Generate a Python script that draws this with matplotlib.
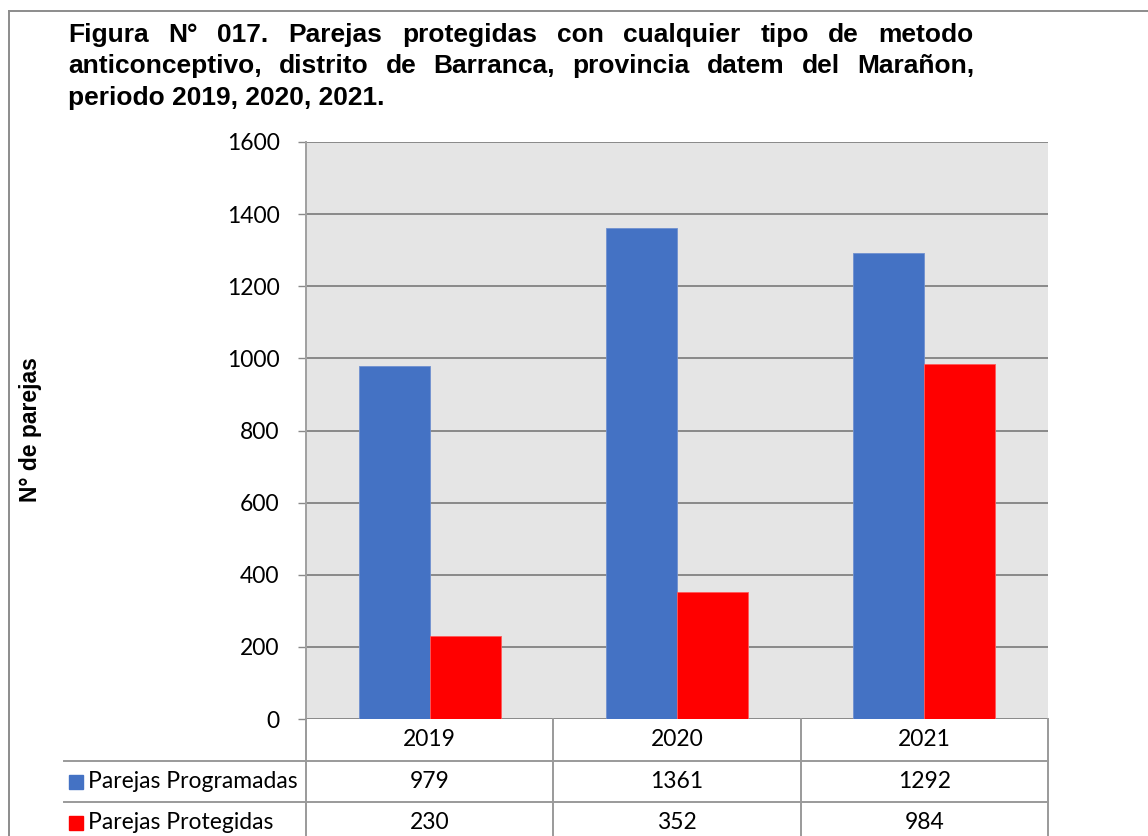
import matplotlib
matplotlib.use("Agg")
import matplotlib.pyplot as plt
from matplotlib.lines import Line2D
from matplotlib.patches import Rectangle
from matplotlib.transforms import blended_transform_factory
import numpy as np

# data
years = ["2019", "2020", "2021"]
programadas = [979, 1361, 1292]
protegidas = [230, 352, 984]
series_names = ["Parejas Programadas", "Parejas Protegidas"]
colors = ["#4472C4", "#FF0000"]

title_lines = [
    "Figura N° 017. Parejas protegidas con cualquier tipo de metodo",
    "anticonceptivo, distrito de Barranca, provincia datem del Marañon,",
    "periodo 2019, 2020, 2021.",
]

W, H = 1148, 836
fig = plt.figure(figsize=(W / 100, H / 100), dpi=100)
fx = lambda px: px / W
fy = lambda py: 1 - py / H

ax = fig.add_axes([fx(306), fy(719), fx(1048) - fx(306), fy(142) - fy(719)])
ax.set_facecolor("#E5E5E5")

x = np.arange(len(years))
bw = 0.287
ax.bar(x - bw / 2, programadas, bw, color=colors[0], edgecolor="#6f90d0", linewidth=0.6, zorder=3)
ax.bar(x + bw / 2, protegidas, bw, color=colors[1], edgecolor="#ff5a5a", linewidth=0.6, zorder=3)

ax.set_xlim(-0.5, 2.5)
ax.set_ylim(0, 1600)
ax.set_yticks(np.arange(0, 1601, 200))
ax.yaxis.grid(True, color="#898989", linewidth=1.4, zorder=1)
ax.set_axisbelow(True)
ax.set_xticks([])
for s in ["top", "right", "bottom"]:
    ax.spines[s].set_visible(False)
ax.spines["left"].set_color("#A0A0A0")
ax.spines["left"].set_linewidth(1.4)
fs = 16.5
ax.tick_params(axis="y", length=6, width=1, color="#898989", pad=13,
               labelsize=fs, labelfontfamily="Lato")

fig.text(fx(30), fy(430), "N° de parejas", rotation=90, ha="center", va="center",
         fontsize=16.5, fontweight="bold", family="Liberation Sans")

# figure border
lc = "#8C8C8C"
fig.add_artist(Line2D([fx(9), fx(1148)], [fy(11), fy(11)], color=lc, lw=1.4))
fig.add_artist(Line2D([fx(9), fx(9)], [fy(11), fy(836)], color=lc, lw=1.4))

# justified title
fig.canvas.draw()
r = fig.canvas.get_renderer()
tx0, tx1 = 68, 974
baselines = [42, 73, 105]
tfs = 19
for i, line in enumerate(title_lines):
    if i == len(title_lines) - 1:
        fig.text(fx(tx0), fy(baselines[i]), line, fontsize=tfs, fontweight="bold",
                 family="Liberation Sans", va="baseline")
        continue
    words = line.split(" ")
    arts = [fig.text(0, fy(baselines[i]), w, fontsize=tfs, fontweight="bold",
                     family="Liberation Sans", va="baseline") for w in words]
    widths = [a.get_window_extent(r).width for a in arts]
    gap = (tx1 - tx0 - sum(widths)) / (len(words) - 1)
    pos = tx0
    for a, w in zip(arts, widths):
        a.set_x(fx(pos))
        pos += w + gap

# data table
tl = "#9A9A9A"
row_y = [719, 761, 802, 843]
blend = blended_transform_factory(ax.transData, fig.transFigure)
for b in np.arange(-0.5, len(years), 1.0):
    fig.add_artist(Line2D([b, b], [fy(719), fy(843)], color=tl, lw=1.4, transform=blend))
for i, yv in enumerate(years):
    fig.text(x[i], fy((row_y[0] + row_y[1]) / 2), yv, transform=blend, ha="center", va="center",
             fontsize=fs, family="Lato")
for j, vals in enumerate([programadas, protegidas]):
    yc = fy((row_y[j + 1] + row_y[j + 2]) / 2)
    for i, v in enumerate(vals):
        fig.text(x[i], yc, str(v), transform=blend, ha="center", va="center",
                 fontsize=fs, family="Lato")

# row header labels
lab0 = fig.text(fx(298), fy(781.5), series_names[0], ha="right", va="center",
                fontsize=fs, family="Lato")
lx = lab0.get_window_extent(r).x0
lab0.set_ha("left")
lab0.set_x(fx(lx))
fig.text(fx(lx), fy(822.5), series_names[1], ha="left", va="center", fontsize=fs, family="Lato")
sq = 14
for j in range(2):
    yc = (row_y[j + 1] + row_y[j + 2]) / 2
    fig.add_artist(Rectangle((fx(lx - sq - 5), fy(yc + sq / 2)), sq / W, sq / H,
                             color=colors[j], transform=fig.transFigure))
left_end = lx - sq - 10
for yy in row_y[1:3]:
    fig.add_artist(Line2D([fx(left_end), fx(1048)], [fy(yy), fy(yy)], color=tl, lw=1.4))

fig.savefig("out.png", dpi=100)
